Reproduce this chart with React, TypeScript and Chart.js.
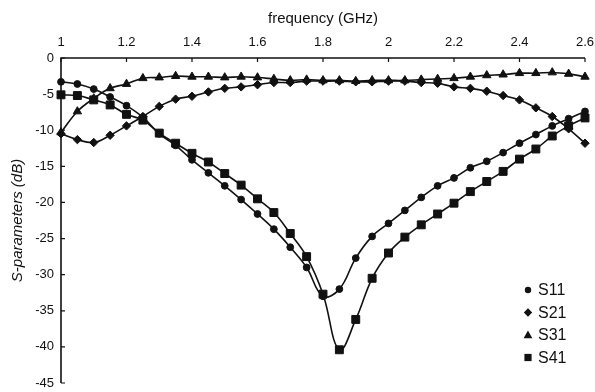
import React, { useEffect, useRef } from 'react';
import { Chart, registerables } from 'chart.js';

Chart.register(...registerables);

const freq = [1.0, 1.05, 1.1, 1.15, 1.2, 1.25, 1.3, 1.35, 1.4, 1.45, 1.5, 1.55, 1.6, 1.65, 1.7, 1.75, 1.8, 1.85, 1.9, 1.95, 2.0, 2.05, 2.1, 2.15, 2.2, 2.25, 2.3, 2.35, 2.4, 2.45, 2.5, 2.55, 2.6];

const s11 = [-3.3, -3.6, -4.3, -5.4, -6.6, -8.2, -10.5, -12.1, -14.1, -15.9, -17.7, -19.6, -21.6, -23.7, -26.2, -29.0, -33.0, -32.0, -27.7, -24.7, -22.9, -21.1, -19.3, -17.7, -16.6, -15.2, -14.3, -13.1, -11.8, -10.6, -9.4, -8.4, -7.4];

const s21 = [-10.5, -11.3, -11.7, -10.7, -9.4, -8.1, -6.7, -5.7, -5.3, -4.7, -4.2, -4.0, -3.7, -3.4, -3.4, -3.2, -3.2, -3.2, -3.3, -3.3, -3.2, -3.2, -3.4, -3.5, -4.0, -4.2, -4.6, -5.2, -5.8, -6.9, -8.1, -9.8, -11.8];

const s31 = [-10.3, -7.4, -5.6, -4.2, -3.6, -2.8, -2.7, -2.5, -2.6, -2.6, -2.7, -2.6, -2.7, -2.9, -3.1, -3.0, -3.1, -3.1, -3.2, -3.1, -3.1, -3.1, -3.0, -2.9, -2.8, -2.6, -2.4, -2.3, -2.1, -2.1, -2.0, -2.2, -2.6];

const s41 = [-5.1, -5.2, -5.8, -6.5, -7.8, -8.6, -10.4, -11.8, -13.2, -14.4, -16.0, -17.6, -19.5, -21.4, -24.3, -27.5, -32.7, -40.4, -36.2, -30.5, -27.0, -24.8, -23.1, -21.6, -20.1, -18.5, -17.1, -15.7, -14.0, -12.6, -10.8, -9.4, -8.3];

const seriesNames = ['S11', 'S21', 'S31', 'S41'];
const xTicks = [1, 1.2, 1.4, 1.6, 1.8, 2, 2.2, 2.4, 2.6];
const yTicks = [0, -5, -10, -15, -20, -25, -30, -35, -40, -45];

const INK = '#111111';

function drawMarker(ctx: CanvasRenderingContext2D, kind: string, x: number, y: number, r: number) {
  ctx.beginPath();
  if (kind === 'circle') {
    ctx.arc(x, y, r, 0, Math.PI * 2);
  } else if (kind === 'rectRot') {
    ctx.moveTo(x, y - r);
    ctx.lineTo(x + r, y);
    ctx.lineTo(x, y + r);
    ctx.lineTo(x - r, y);
    ctx.closePath();
  } else if (kind === 'triangle') {
    ctx.moveTo(x, y - r);
    ctx.lineTo(x + r * 0.95, y + r * 0.7);
    ctx.lineTo(x - r * 0.95, y + r * 0.7);
    ctx.closePath();
  } else {
    ctx.rect(x - r, y - r, 2 * r, 2 * r);
  }
  ctx.fill();
}

const framePlugin = {
  id: 'framePlugin',
  afterDraw(chart: any) {
    const { ctx, chartArea } = chart;
    const { left, top, right, bottom } = chartArea;
    const xs = chart.scales.x;
    const ys = chart.scales.y;
    ctx.save();
    ctx.strokeStyle = INK;
    ctx.lineWidth = 1.6;
    ctx.beginPath();
    ctx.moveTo(left, bottom);
    ctx.lineTo(left, top);
    ctx.lineTo(right, top);
    ctx.stroke();
    ctx.lineWidth = 1.2;
    ctx.beginPath();
    xTicks.forEach((v) => {
      const px = xs.getPixelForValue(v);
      ctx.moveTo(px, top);
      ctx.lineTo(px, top + 4);
    });
    yTicks.forEach((v) => {
      const py = ys.getPixelForValue(v);
      ctx.moveTo(left, py);
      ctx.lineTo(left + 4, py);
    });
    ctx.stroke();

    // legend
    const kinds = ['circle', 'rectRot', 'triangle', 'rect'];
    const sizes = [3.2, 4.2, 4.6, 3.6];
    const ly = [290, 312.5, 335, 357.5];
    ctx.fillStyle = INK;
    ctx.font = '16px "Liberation Sans", Arial, sans-serif';
    ctx.textBaseline = 'middle';
    ctx.textAlign = 'left';
    seriesNames.forEach((name, i) => {
      drawMarker(ctx, kinds[i], 528, ly[i], sizes[i]);
      ctx.fillText(name, 538, ly[i] + 1);
    });
    ctx.restore();
  },
};

export default function App() {
  const ref = useRef<HTMLCanvasElement | null>(null);

  useEffect(() => {
    if (!ref.current) return;
    const mk = (label: string, vals: number[], style: string, r: number) => ({
      label,
      data: freq.map((f, i) => ({ x: f, y: vals[i] })),
      borderColor: INK,
      backgroundColor: INK,
      borderWidth: 1.6,
      pointStyle: style,
      pointRadius: r,
      pointBorderWidth: 1,
      pointBackgroundColor: INK,
      pointBorderColor: INK,
      tension: 0.4,
      clip: false as any,
    });
    const chart = new Chart(ref.current, {
      type: 'line',
      data: {
        datasets: [
          mk('S11', s11, 'circle', 3.4),
          mk('S21', s21, 'rectRot', 4.2),
          mk('S31', s31, 'triangle', 4.8),
          mk('S41', s41, 'rect', 5.6),
        ],
      },
      options: {
        animation: false,
        responsive: false,
        maintainAspectRatio: false,
        layout: { padding: { left: 0, right: 10, top: 0, bottom: 9 } },
        plugins: {
          legend: { display: false },
          tooltip: { enabled: false },
        },
        scales: {
          x: {
            type: 'linear',
            position: 'top',
            min: 1,
            max: 2.6,
            afterBuildTicks: (scale: any) => {
              scale.ticks = xTicks.map((v) => ({ value: v }));
            },
            afterFit: (scale: any) => {
              scale.height = 58;
              scale.paddingLeft = 0;
              scale.paddingRight = 0;
            },
            grid: { display: false, drawTicks: false, tickLength: 0 },
            border: { display: false },
            ticks: {
              color: INK,
              padding: 8,
              maxRotation: 0,
              font: { family: '"Liberation Sans", Arial, sans-serif', size: 13 },
              callback: (v: any) => String(Math.round(Number(v) * 10) / 10),
            },
            title: {
              display: true,
              text: 'frequency (GHz)',
              color: INK,
              padding: { top: 10, bottom: 4 },
              font: { family: '"Liberation Sans", Arial, sans-serif', size: 15 },
            },
          },
          y: {
            type: 'linear',
            min: -45,
            max: 0,
            afterBuildTicks: (scale: any) => {
              scale.ticks = yTicks.map((v) => ({ value: v }));
            },
            afterFit: (scale: any) => {
              scale.width = 61;
              scale.paddingTop = 0;
              scale.paddingBottom = 0;
            },
            grid: { display: false, drawTicks: false, tickLength: 0 },
            border: { display: false },
            ticks: {
              color: INK,
              padding: 7,
              font: { family: '"Liberation Sans", Arial, sans-serif', size: 13 },
              callback: (v: any) => String(v),
            },
            title: {
              display: true,
              text: 'S-parameters (dB)',
              color: INK,
              padding: { top: 9, bottom: 0 },
              font: { family: '"Liberation Sans", Arial, sans-serif', size: 15, style: 'italic' },
            },
          },
        },
      },
      plugins: [framePlugin],
    });
    return () => chart.destroy();
  }, []);

  return (
    <div style={{ position: 'fixed', left: 0, top: 0, width: 595, height: 392, background: '#fff' }}>
      <canvas ref={ref} width={595} height={392} style={{ width: 595, height: 392, display: 'block' }} />
    </div>
  );
}
